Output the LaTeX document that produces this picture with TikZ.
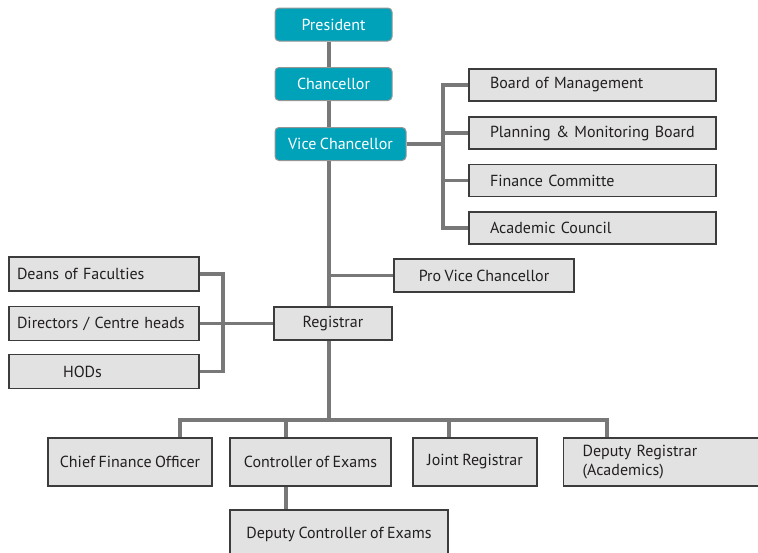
\documentclass[tikz,border=0pt]{standalone}
\usepackage{fontspec}
\setmainfont[WordSpace=0.8]{PT Sans}
\usetikzlibrary{positioning}
\definecolor{headcol}{RGB}{0,162,186}
\definecolor{headline}{RGB}{150,150,150}
\definecolor{boxfill}{RGB}{226,226,226}
\definecolor{boxline}{RGB}{60,60,60}
\definecolor{linkcol}{RGB}{120,120,120}
\definecolor{txtcol}{RGB}{35,31,32}
\newcommand{\orgfont}{\fontsize{16}{19.5}\selectfont}
\begin{document}
\begin{tikzpicture}[x=1pt,y=-1pt,
  head/.style={draw=headline, line width=1pt, fill=headcol, text=white, rounded corners=4pt, minimum height=33pt, font=\orgfont},
  box/.style={draw=boxline, line width=1.2pt, fill=boxfill, text=txtcol, minimum height=33pt, font=\orgfont},
  board/.style={box, text width=205pt, inner xsep=21pt, align=left, minimum height=32pt},
  lbox/.style={box, text width=174pt, inner xsep=8pt, align=left, minimum height=34pt},
  low/.style={box, minimum height=48pt},
  link/.style={draw=linkcol, line width=3.5pt}]
\useasboundingbox (0,0) rectangle (758,552);
\clip (0,0) rectangle (758,552);

\node[head, minimum width=117pt] (pres) at (333.5,24.5) {President};
\node[head, minimum width=117pt] (chan) at (333.5,84) {Chancellor};
\node[head, minimum width=131pt] (vc) at (340.5,144) {Vice Chancellor};

\node[board] (bom) at (592.5,85) {Board of Management};
\node[board] (pmb) at (592.5,133) {Planning \& Monitoring Board};
\node[board] (fin) at (592.5,180.5) {Finance Committe};
\node[board] (acc) at (592.5,228) {Academic Council};

\node[box, minimum width=180pt] (pvc) at (484,275.5) {Pro Vice Chancellor};
\node[box, minimum width=118pt] (reg) at (333,323.5) {Registrar};

\node[lbox] (dean) at (104,274) {Deans of Faculties};
\node[lbox] (dir) at (104,323.5) {Directors / Centre heads};
\node[lbox] (hod) at (104,371.5) {\hspace*{46pt}HODs};

\node[low, minimum width=164pt] (cfo) at (130,462) {Chief Finance Officer};
\node[low, minimum width=161pt] (coe) at (310.5,462) {Controller of Exams};
\node[low, minimum width=124pt] (jr) at (475,462) {Joint Registrar};
\node[low, anchor=west, text width=180pt, inner xsep=19pt, align=left] (dr) at (563,462) {Deputy Registrar\\(Academics)};
\node[low, minimum width=218pt] (dce) at (339,534) {Deputy Controller of Exams};

\coordinate (spine) at (329,0);
\coordinate (rb) at (443,144);
\coordinate (lb) at (223,323.5);
\coordinate (bus) at (329,420);

\path[link] (pres.south -| spine) -- (chan.north -| spine);
\path[link] (chan.south -| spine) -- (vc.north -| spine);
\path[link] (vc.south -| spine) -- (reg.north -| spine);
\path[link] (reg.south -| spine) -- (bus);

\path[link] (vc.east) -- (rb);
\path[link] (bom.west) -| (rb);
\path[link] (pmb.west) -- (pmb.west -| rb);
\path[link] (fin.west) -- (fin.west -| rb);
\path[link] (acc.west) -| (rb);

\path[link] (pvc.west) -- (pvc.west -| spine);

\path[link] (reg.west) -- (lb);
\path[link] (dean.east) -| (lb);
\path[link] (dir.east) -- (lb);
\path[link] (hod.east) -| (lb);

\path[link] ([xshift=50pt]cfo.north) |- (bus);
\path[link] ([xshift=-24.5pt]coe.north) |- (bus);
\path[link] ([xshift=-26pt]jr.north) |- (bus);
\path[link] ([xshift=44pt]dr.north west) |- (bus);
\path[link] ([xshift=-24.5pt]coe.south) -- ([xshift=-53pt]dce.north);
\end{tikzpicture}
\end{document}
